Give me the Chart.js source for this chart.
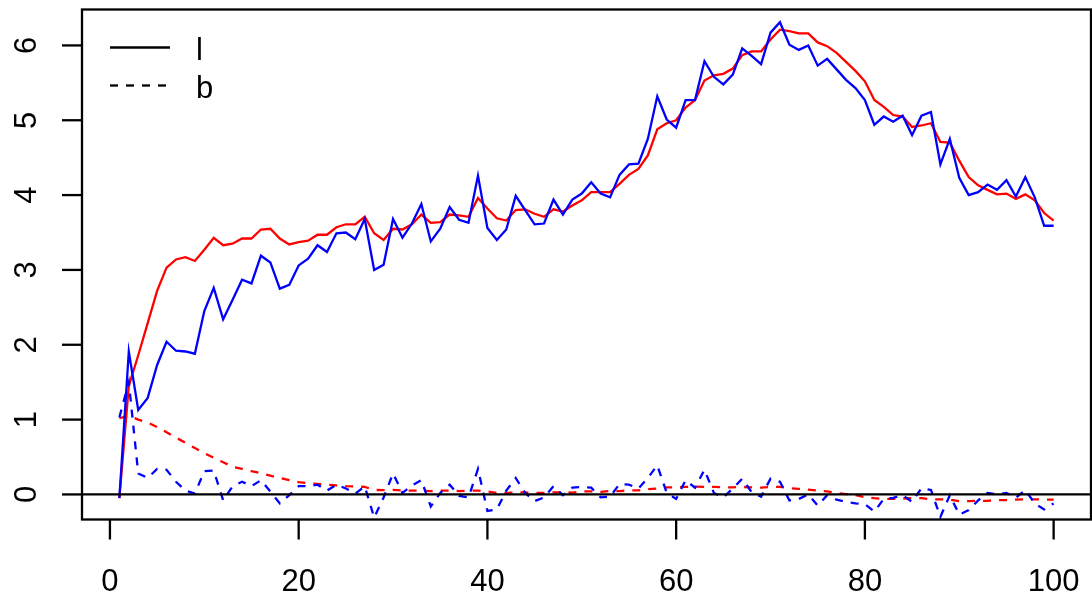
<!DOCTYPE html>
<html>
<head>
<meta charset="utf-8">
<script src="https://cdn.jsdelivr.net/npm/chart.js@4/dist/chart.umd.min.js"></script>
<style>
  html, body { margin: 0; padding: 0; background: #fff; }
  #plot { display: block; }
</style>
</head>
<body>
<canvas id="plot" width="1092" height="596"></canvas>
<script>
// x is just the step index 1..100
const steps = Array.from({ length: 100 }, (_, i) => i + 1);

// solid blue: l observed
const lObserved = [
  -0.05, 1.91, 1.13, 1.29, 1.73, 2.04, 1.92, 1.91, 1.88, 2.45,
  2.76, 2.34, 2.60, 2.87, 2.82, 3.19, 3.10, 2.75, 2.80, 3.06,
  3.15, 3.33, 3.24, 3.49, 3.50, 3.41, 3.68, 3.00, 3.07, 3.68,
  3.43, 3.62, 3.88, 3.38, 3.55, 3.84, 3.67, 3.63, 4.26, 3.56,
  3.40, 3.54, 3.99, 3.80, 3.61, 3.62, 3.94, 3.74, 3.94, 4.02,
  4.17, 4.02, 3.97, 4.27, 4.41, 4.42, 4.75, 5.32, 5.01, 4.90,
  5.27, 5.27, 5.79, 5.58, 5.48, 5.61, 5.96, 5.86, 5.75, 6.17,
  6.31, 6.01, 5.94, 6.00, 5.73, 5.82, 5.68, 5.54, 5.43, 5.27,
  4.94, 5.05, 4.98, 5.06, 4.80, 5.06, 5.11, 4.41, 4.75, 4.23,
  4.00, 4.04, 4.14, 4.07, 4.20, 3.98, 4.24, 3.97, 3.59, 3.59
];

// solid red: l smoothed
const lSmooth = [
  -0.05, 1.45, 1.86, 2.29, 2.72, 3.03, 3.14, 3.17, 3.12, 3.27,
  3.43, 3.33, 3.35, 3.42, 3.42, 3.54, 3.55, 3.42, 3.34, 3.37,
  3.39, 3.47, 3.47, 3.57, 3.61, 3.61, 3.71, 3.49, 3.40, 3.55,
  3.54, 3.61, 3.74, 3.63, 3.64, 3.74, 3.73, 3.71, 3.96, 3.82,
  3.69, 3.66, 3.80, 3.81, 3.75, 3.71, 3.81, 3.78, 3.86, 3.93,
  4.04, 4.04, 4.04, 4.15, 4.27, 4.35, 4.53, 4.88, 4.96, 5.00,
  5.17, 5.27, 5.53, 5.60, 5.62, 5.69, 5.87, 5.92, 5.92, 6.08,
  6.21, 6.19, 6.16, 6.16, 6.04, 5.99, 5.90, 5.78, 5.66, 5.52,
  5.27, 5.18, 5.07, 5.05, 4.91, 4.93, 4.96, 4.71, 4.70, 4.46,
  4.24, 4.13, 4.07, 4.01, 4.02, 3.95, 4.01, 3.93, 3.76, 3.66
];

// dashed blue: b observed
const bObserved = [
  1.03, 1.50, 0.28, 0.22, 0.34, 0.33, 0.17, 0.05, 0.01, 0.31,
  0.32, -0.08, 0.11, 0.17, 0.11, 0.19, 0.04, -0.12, -0.01, 0.11,
  0.11, 0.13, 0.05, 0.13, 0.08, 0.01, 0.11, -0.31, -0.04, 0.28,
  0.02, 0.12, 0.19, -0.16, 0.02, 0.13, -0.02, -0.04, 0.34, -0.22,
  -0.20, 0.05, 0.22, 0.02, -0.09, -0.04, 0.11, -0.01, 0.09, 0.10,
  0.09, -0.04, -0.03, 0.14, 0.13, 0.08, 0.22, 0.39, 0.02, -0.06,
  0.19, 0.09, 0.33, 0.02, -0.04, 0.08, 0.21, 0.03, -0.03, 0.21,
  0.17, -0.08, -0.06, 0.00, -0.15, -0.01, -0.07, -0.10, -0.12, -0.13,
  -0.23, -0.06, -0.045, -0.01, -0.10, 0.085, 0.06, -0.30, -0.01, -0.27,
  -0.21, -0.08, 0.02, 0.00, 0.02, -0.045, 0.06, -0.12, -0.20, -0.12
];

// dashed red: b smoothed
const bSmooth = [
  1.02, 1.05, 1.00, 0.96, 0.90, 0.83, 0.76, 0.69, 0.62, 0.55,
  0.49, 0.43, 0.37, 0.34, 0.31, 0.285, 0.25, 0.22, 0.19, 0.165,
  0.15, 0.14, 0.13, 0.12, 0.11, 0.107, 0.10, 0.06, 0.058, 0.06,
  0.053, 0.05, 0.05, 0.045, 0.05, 0.05, 0.045, 0.05, 0.05, 0.04,
  0.02, 0.02, 0.027, 0.027, 0.022, 0.022, 0.027, 0.027, 0.025, 0.04,
  0.04, 0.035, 0.045, 0.045, 0.053, 0.053, 0.07, 0.08, 0.095, 0.095,
  0.10, 0.105, 0.10, 0.10, 0.095, 0.095, 0.10, 0.095, 0.09, 0.10,
  0.10, 0.085, 0.075, 0.065, 0.05, 0.04, 0.02, 0.005, -0.01, -0.035,
  -0.05, -0.06, -0.06, -0.055, -0.05, -0.05, -0.065, -0.065, -0.07, -0.09,
  -0.09, -0.085, -0.085, -0.075, -0.075, -0.07, -0.065, -0.065, -0.07, -0.07
];

const xTicks = [0, 20, 40, 60, 80, 100];
const yTicks = [0, 1, 2, 3, 4, 5, 6];
const legendLabels = ['l', 'b'];

const FONT = '31px "Liberation Sans", Arial, sans-serif';
const DASH = [8, 8];
const LINE_W = 2.3;

const toPoints = (values) => values.map((v, i) => ({ x: steps[i], y: v }));

const series = (values, color, dashed) => ({
  data: toPoints(values),
  borderColor: color,
  borderWidth: LINE_W,
  borderDash: dashed ? DASH : [],
  pointRadius: 0,
  tension: 0,
  fill: false,
});

// box, axes, zero line and legend, drawn the way base R does it
const frame = {
  id: 'frame',
  afterDatasetsDraw(chart) {
    const { ctx, chartArea: a, scales: { x, y } } = chart;
    ctx.save();
    ctx.strokeStyle = '#000';
    ctx.fillStyle = '#000';
    ctx.lineWidth = LINE_W;
    ctx.lineCap = 'butt';

    const seg = (x1, y1, x2, y2) => {
      ctx.beginPath();
      ctx.moveTo(x1, y1);
      ctx.lineTo(x2, y2);
      ctx.stroke();
    };

    const y0 = y.getPixelForValue(0);
    seg(a.left, y0, a.right, y0);

    ctx.strokeRect(a.left, a.top, a.right - a.left, a.bottom - a.top);

    ctx.font = FONT;
    ctx.textAlign = 'center';
    ctx.textBaseline = 'alphabetic';
    xTicks.forEach((t) => {
      const px = x.getPixelForValue(t);
      seg(px, a.bottom, px, a.bottom + 20);
      ctx.fillText(String(t), px, a.bottom + 71);
    });

    yTicks.forEach((t) => {
      const py = y.getPixelForValue(t);
      seg(a.left, py, a.left - 20, py);
      ctx.save();
      ctx.translate(a.left - 57, py);
      ctx.rotate(-Math.PI / 2);
      ctx.fillText(String(t), 0, 11);
      ctx.restore();
    });

    // legend: solid = l, dashed = b
    ctx.textAlign = 'left';
    legendLabels.forEach((label, i) => {
      const ly = a.top + 38 + i * 38;
      ctx.setLineDash(i === 0 ? [] : DASH);
      seg(a.left + 28, ly, a.left + 88, ly);
      ctx.setLineDash([]);
      ctx.fillText(label, a.left + 114, ly + 12);
    });
    ctx.restore();
  },
};

new Chart(document.getElementById('plot'), {
  type: 'line',
  data: {
    datasets: [
      series(lObserved, '#0000ff', false),
      series(bObserved, '#0000ff', true),
      series(lSmooth, '#ff0000', false),
      series(bSmooth, '#ff0000', true),
    ],
  },
  options: {
    responsive: false,
    animation: false,
    events: [],
    layout: { padding: { left: 82, right: 1, top: 9.5, bottom: 76.5 } },
    scales: {
      x: { type: 'linear', min: -2.96, max: 103.96, display: false },
      y: { type: 'linear', min: -0.335, max: 6.48, display: false },
    },
    plugins: {
      legend: { display: false },
      tooltip: { enabled: false },
    },
  },
  plugins: [frame],
});
</script>
</body>
</html>
